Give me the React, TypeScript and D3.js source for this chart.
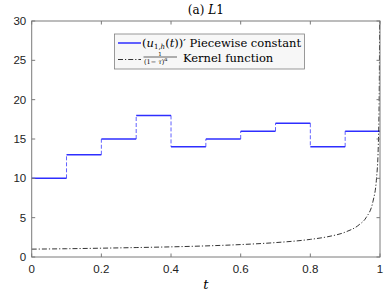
import React from "react";
import * as d3 from "d3";

const W = 390, H = 293;
const M = { left: 31.7, right: 10, top: 21, bottom: 36 };

const stepEdges = [0, 0.1, 0.2, 0.3, 0.4, 0.5, 0.6, 0.7, 0.8, 0.9, 1];
const stepValues = [10, 13, 15, 18, 14, 15, 16, 17, 14, 16];

const kernelT = [0, 0.1, 0.2, 0.3, 0.4, 0.5, 0.6, 0.7, 0.8, 0.85, 0.9, 0.94, 0.96, 0.98, 0.99, 0.995, 0.998, 0.9989];
const kernelV = [1, 1.05, 1.12, 1.2, 1.29, 1.41, 1.58, 1.83, 2.24, 2.58, 3.16, 4.1, 5, 7.1, 10, 14, 22, 30];

const xTicks = [0, 0.2, 0.4, 0.6, 0.8, 1];
const yTicks = [0, 5, 10, 15, 20, 25, 30];

export default function App() {
  const x = d3.scaleLinear().domain([0, 1]).range([M.left, W - M.right]);
  const y = d3.scaleLinear().domain([0, 30]).range([H - M.bottom, M.top]);
  const axisColor = "#7a7a7a";
  const tickLen = 3.5;
  const blue = "#2e2eff";

  const kernelLine = d3
    .line<number>()
    .x((_, i) => x(kernelT[i]))
    .y((v) => y(v))
    .curve(d3.curveMonotoneX)(kernelV) as string;

  const x0 = x(0), x1 = x(1), y0 = y(0), y1 = y(30);
  const tickFont = "'Liberation Sans', Arial, sans-serif";
  const serif = "'DejaVu Serif', 'Liberation Serif', serif";

  return (
    <svg width={W} height={H} style={{ position: "absolute", left: 0, top: 0 }}>
      <rect x={0} y={0} width={W} height={H} fill="#fff" />
      {stepValues.map((v, i) => (
        <line key={"h" + i} x1={x(stepEdges[i])} x2={x(stepEdges[i + 1])} y1={y(v)} y2={y(v)} stroke={blue} strokeWidth={1.5} />
      ))}
      {stepValues.slice(1).map((v, i) => (
        <line key={"v" + i} x1={x(stepEdges[i + 1])} x2={x(stepEdges[i + 1])} y1={y(stepValues[i])} y2={y(v)} stroke={blue} strokeOpacity={0.75} strokeWidth={1} strokeDasharray="4,2" />
      ))}
      <path d={kernelLine} fill="none" stroke="#000" strokeWidth={0.8} strokeDasharray="5,2,1.2,2" />
      <rect x={x0} y={y1} width={x1 - x0} height={y0 - y1} fill="none" stroke={axisColor} strokeWidth={1} />
      {xTicks.map((t) => (
        <g key={"xt" + t}>
          <line x1={x(t)} x2={x(t)} y1={y0} y2={y0 - tickLen} stroke={axisColor} />
          <line x1={x(t)} x2={x(t)} y1={y1} y2={y1 + tickLen} stroke={axisColor} />
          <text x={x(t)} y={y0 + 16} textAnchor="middle" fontFamily={tickFont} fontSize={11.5} fill="#222">{t}</text>
        </g>
      ))}
      {yTicks.map((t) => (
        <g key={"yt" + t}>
          <line x1={x0} x2={x0 + tickLen} y1={y(t)} y2={y(t)} stroke={axisColor} />
          <line x1={x1} x2={x1 - tickLen} y1={y(t)} y2={y(t)} stroke={axisColor} />
          <text x={x0 - 5.5} y={y(t) + 4} textAnchor="end" fontFamily={tickFont} fontSize={11.5} fill="#222">{t}</text>
        </g>
      ))}
      <text x={(x0 + x1) / 2} y={14} textAnchor="middle" fontFamily={serif} fontSize={12} fill="#000">
        (a) <tspan fontStyle="italic">L</tspan>1
      </text>
      <text x={(x0 + x1) / 2} y={289} textAnchor="middle" fontFamily={serif} fontStyle="italic" fontSize={13} fill="#000">t</text>
      {/* legend */}
      <rect x={114.5} y={34} width={190} height={35} fill="#f7f7f7" stroke="#808080" strokeWidth={0.8} />
      <line x1={118} x2={141} y1={43} y2={43} stroke={blue} strokeWidth={1.5} />
      <text x={142} y={47} fontFamily={serif} fontSize={11.5} fill="#000">
        (<tspan fontStyle="italic">u</tspan><tspan fontSize={7} dy={1.6}>1,</tspan><tspan fontSize={7} fontStyle="italic">h</tspan><tspan dy={-1.6}>(</tspan><tspan fontStyle="italic">t</tspan>))′ Piecewise constant
      </text>
      <line x1={118} x2={141} y1={59.5} y2={59.5} stroke="#000" strokeWidth={0.8} strokeDasharray="5,2,1.2,2" />
      <text x={160} y={56} textAnchor="middle" fontFamily={serif} fontSize={5.5} fill="#000">1</text>
      <line x1={143.5} x2={177} y1={57} y2={57} stroke="#000" strokeWidth={0.6} />
      <text x={144} y={63.8} fontFamily={serif} fontSize={6.5} fill="#000">
        (1−  <tspan fontStyle="italic">τ</tspan>)<tspan fontSize={5} dy={-2.5} fontStyle="italic">α</tspan>
      </text>
      <text x={183} y={62} fontFamily={serif} fontSize={11.5} fill="#000">Kernel function</text>
    </svg>
  );
}
